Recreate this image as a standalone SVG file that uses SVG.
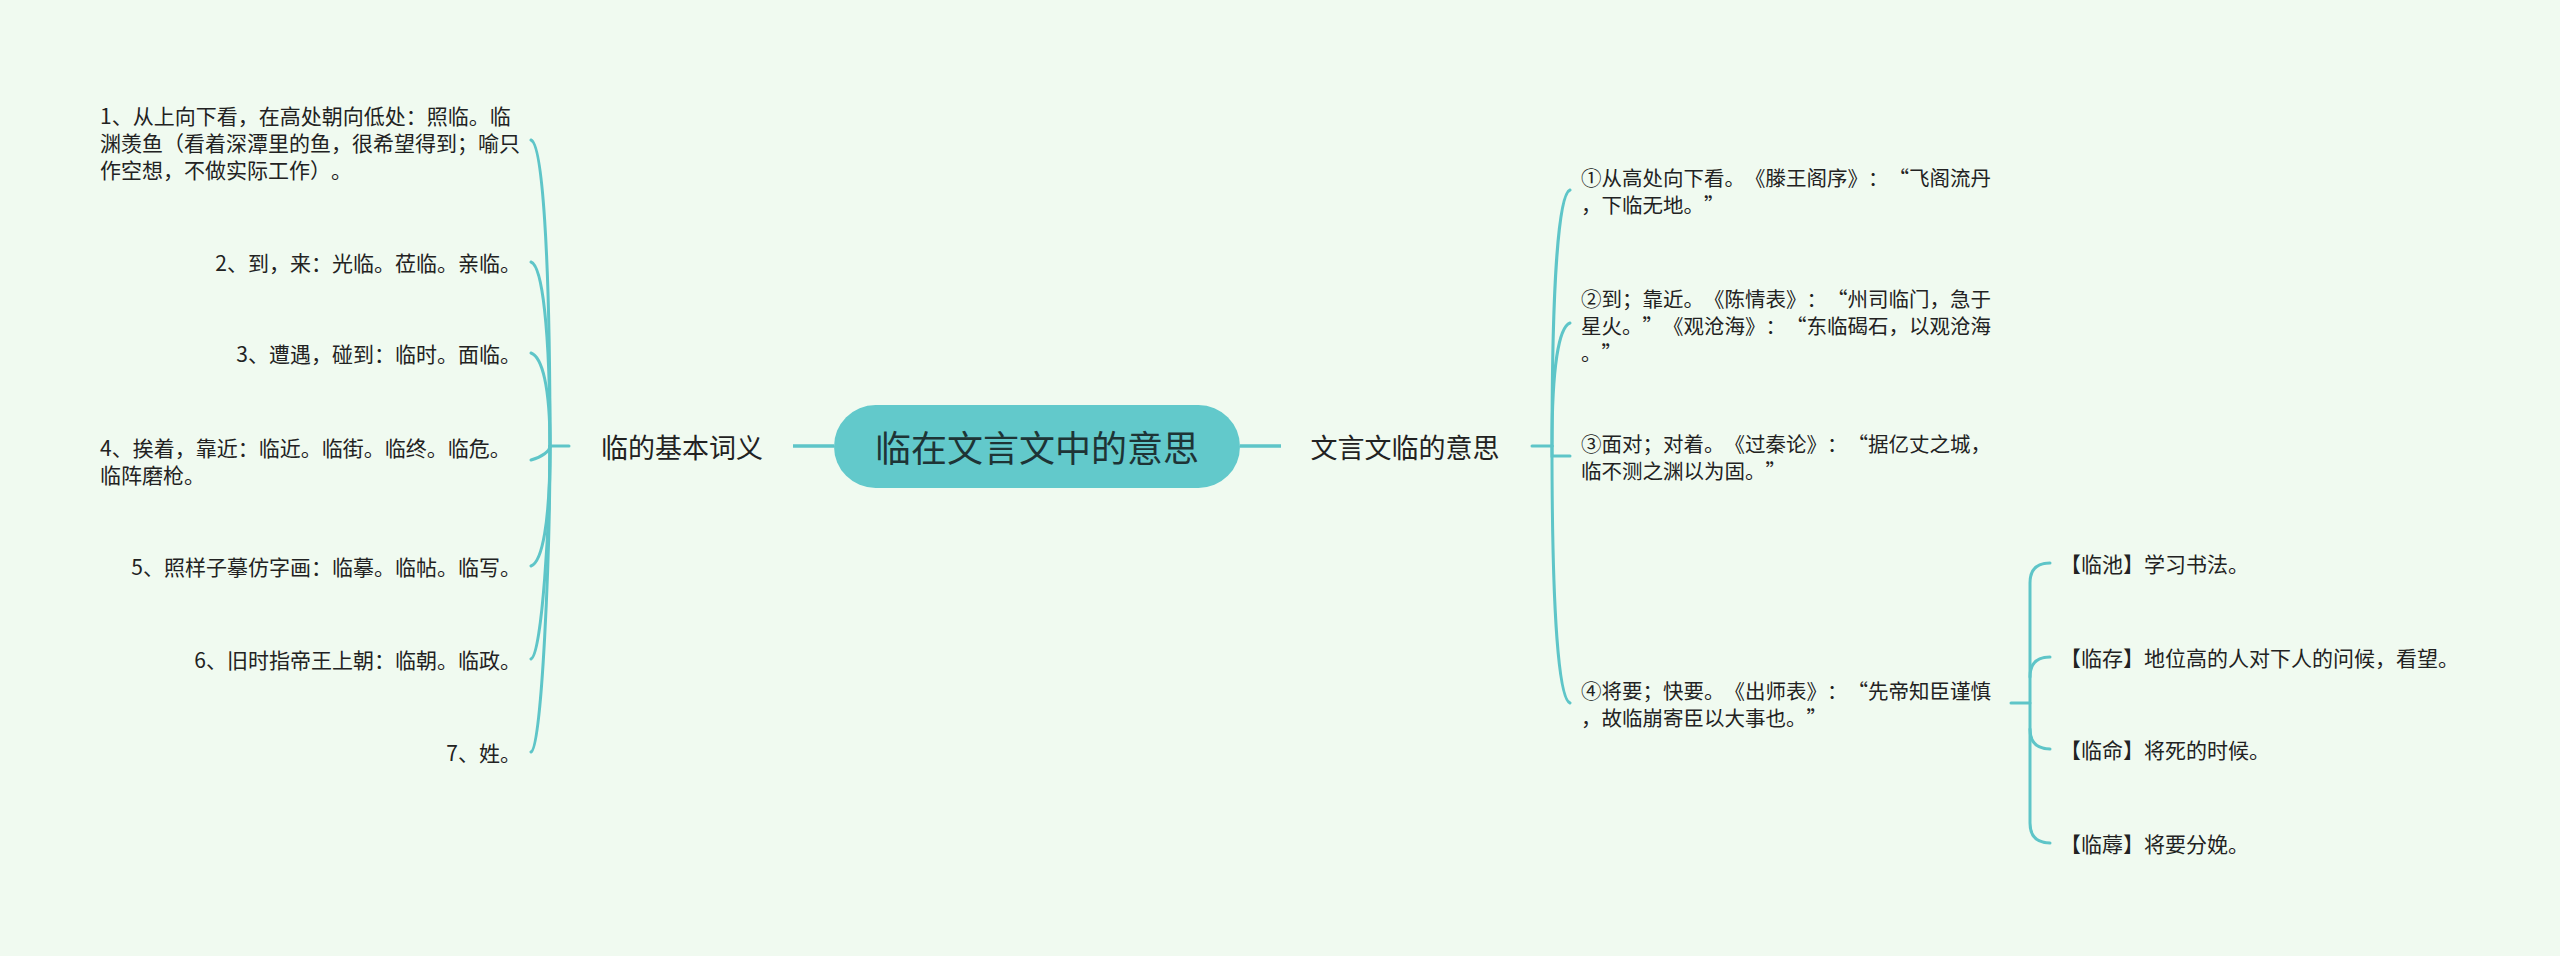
<svg xmlns="http://www.w3.org/2000/svg" width="2560" height="956" viewBox="0 0 2560 956">
<style>
.bg{fill:#F0FAF0}
.ln{fill:none;stroke:#5EC5C8;stroke-width:3;stroke-linecap:round}
.lnb{fill:none;stroke:#5EC5C8;stroke-width:3.5}
text{text-spacing-trim:space-all;font-feature-settings:"chws" 0,"halt" 0,"palt" 0;font-kerning:none}
.t{font-family:"Noto Sans CJK SC","Noto Sans",sans-serif;font-size:21px;fill:#222;dominant-baseline:central}
.r{font-size:20.5px}
.e{text-anchor:end}
.lbl{font-family:"Noto Sans CJK SC","Noto Sans",sans-serif;font-size:27px;fill:#222;text-anchor:middle;dominant-baseline:central}
.title{font-family:"Noto Sans CJK SC","Noto Sans",sans-serif;font-size:36px;fill:#1E3436;text-anchor:middle;dominant-baseline:central}
</style>
<rect class="bg" x="0" y="0" width="2560" height="956"/>
<g id="connectors">
  <line class="lnb" x1="834" y1="446" x2="793" y2="446"/>
  <line class="lnb" x1="1240" y1="446" x2="1281" y2="446"/>
  <line class="ln" x1="569" y1="446" x2="550" y2="446"/>
  <line class="ln" x1="1532" y1="446" x2="1552" y2="446"/>
  <path class="ln" d="M531,140 C542,144 550,247 550,446"/>
  <path class="ln" d="M531,262 C542,266 550,326 550,446"/>
  <path class="ln" d="M531,353 C542,357 550,386 550,446"/>
  <path class="ln" d="M531,460 C542,457 550,451 550,446"/>
  <path class="ln" d="M531,566 C542,562 550,524 550,446"/>
  <path class="ln" d="M531,659 C542,655 550,520 550,446"/>
  <path class="ln" d="M531,752 C542,748 550,553 550,446"/>
  <path class="ln" d="M1570,190 C1559,194 1552,280 1552,446"/>
  <path class="ln" d="M1570,323 C1559,327 1552,366 1552,446"/>
  <path class="ln" d="M1552,446 L1552,456 L1570,456"/>
  <path class="ln" d="M1570,703 C1559,699 1552,616 1552,446"/>
  <line class="ln" x1="2011" y1="703" x2="2030" y2="703"/>
  <path class="ln" d="M2050,563 Q2030,563 2030,583 L2030,823 Q2030,843 2050,843"/>
  <path class="ln" d="M2050,657 Q2030,657 2030,677"/>
  <path class="ln" d="M2050,749 Q2030,749 2030,729"/>
</g>
<g id="root">
  <rect x="834" y="405" width="406" height="83" rx="41.5" fill="#62C9CB"/>
  <text class="title" x="1037" y="446">临在文言文中的意思</text>
</g>
<g id="left-label"><text class="lbl" x="682" y="446">临的基本词义</text></g>
<g id="right-label"><text class="lbl" x="1405" y="446">文言文临的意思</text></g>
<g id="l1">
  <text class="t" x="100" y="115">1、从上向下看，在高处朝向低处：照临。临</text>
  <text class="t" x="100" y="142">渊羡鱼（看着深潭里的鱼，很希望得到；喻只</text>
  <text class="t" x="100" y="169">作空想，不做实际工作）。</text>
</g>
<g id="l2"><text class="t e" x="521" y="262">2、到，来：光临。莅临。亲临。</text></g>
<g id="l3"><text class="t e" x="521" y="353">3、遭遇，碰到：临时。面临。</text></g>
<g id="l4">
  <text class="t" x="100" y="447">4、挨着，靠近：临近。临街。临终。临危。</text>
  <text class="t" x="100" y="474">临阵磨枪。</text>
</g>
<g id="l5"><text class="t e" x="521" y="566">5、照样子摹仿字画：临摹。临帖。临写。</text></g>
<g id="l6"><text class="t e" x="521" y="659">6、旧时指帝王上朝：临朝。临政。</text></g>
<g id="l7"><text class="t e" x="521" y="752">7、姓。</text></g>
<g id="r1">
  <text class="t r" x="1581" y="177">①从高处向下看。《滕王阁序》：“飞阁流丹</text>
  <text class="t r" x="1581" y="204">，下临无地。”</text>
</g>
<g id="r2">
  <text class="t r" x="1581" y="298">②到；靠近。《陈情表》：“州司临门，急于</text>
  <text class="t r" x="1581" y="325">星火。”《观沧海》：“东临碣石，以观沧海</text>
  <text class="t r" x="1581" y="352">。”</text>
</g>
<g id="r3">
  <text class="t r" x="1581" y="443">③面对；对着。《过秦论》：“据亿丈之城，</text>
  <text class="t r" x="1581" y="470">临不测之渊以为固。”</text>
</g>
<g id="r4">
  <text class="t r" x="1581" y="690">④将要；快要。《出师表》：“先帝知臣谨慎</text>
  <text class="t r" x="1581" y="717">，故临崩寄臣以大事也。”</text>
</g>
<g id="s1"><text class="t" x="2060" y="563">【临池】学习书法。</text></g>
<g id="s2"><text class="t" x="2060" y="657">【临存】地位高的人对下人的问候，看望。</text></g>
<g id="s3"><text class="t" x="2060" y="749">【临命】将死的时候。</text></g>
<g id="s4"><text class="t" x="2060" y="843">【临蓐】将要分娩。</text></g>
</svg>
